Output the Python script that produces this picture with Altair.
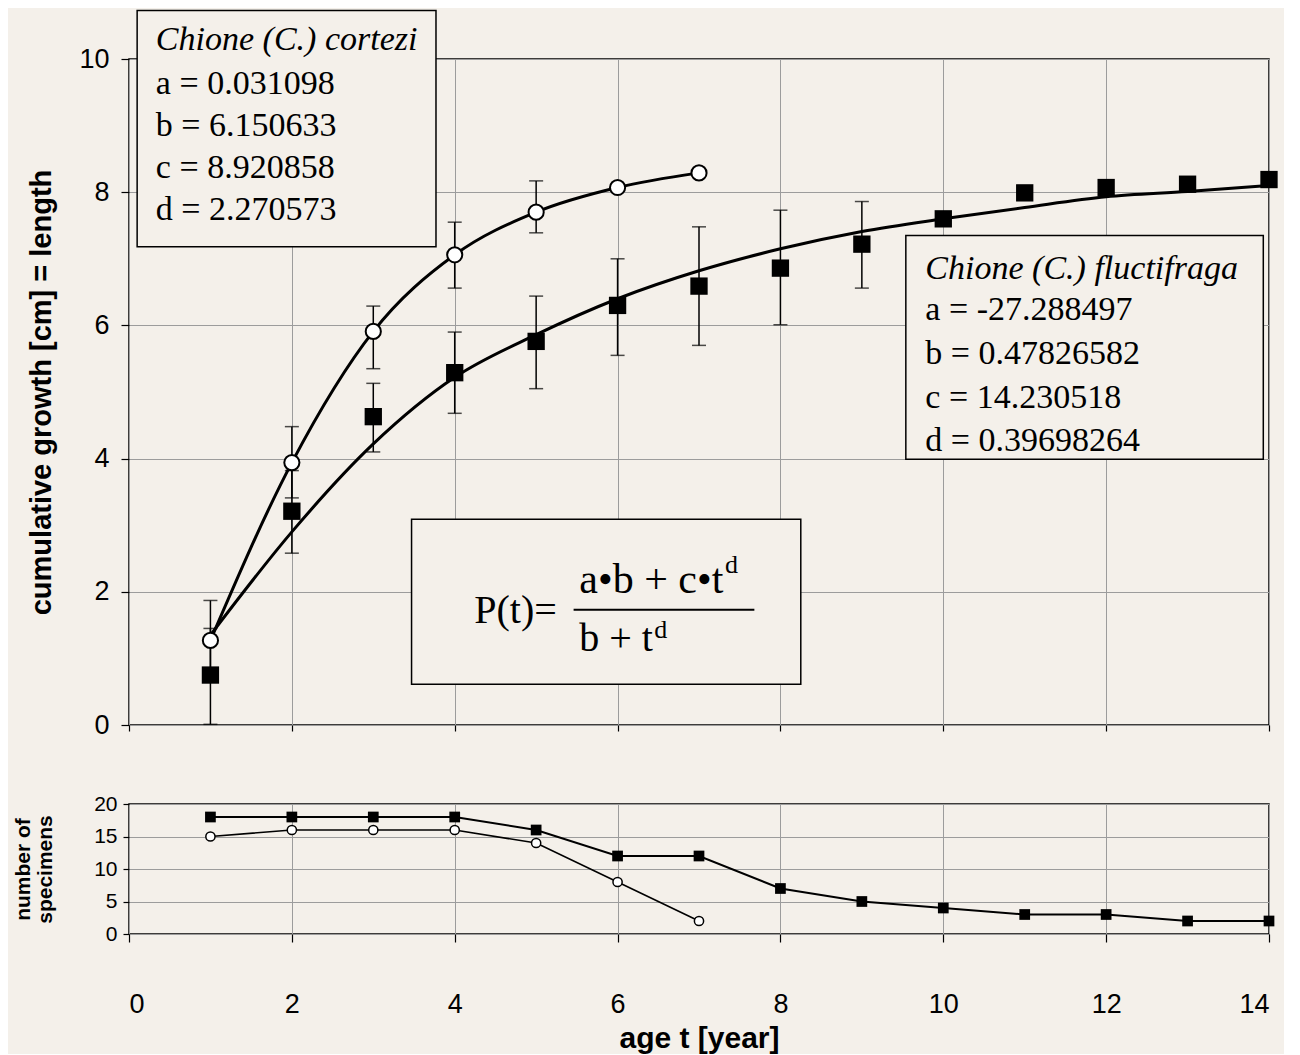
import altair as alt
import pandas as pd

BG = "#f4f0ea"
GRID = "#9c9c9c"
SANS = "Liberation Sans"
SERIF = "Liberation Serif"

# ---------------- data ----------------
cortezi_t = [1, 2, 3, 4, 5, 6, 7]
cortezi_len = [1.27, 3.94, 5.91, 7.06, 7.70, 8.07, 8.29]
cortezi_err_t = [1, 2, 3, 4, 5]
cortezi_lo = [0.67, 3.41, 5.35, 6.56, 7.39]
cortezi_hi = [1.87, 4.48, 6.29, 7.55, 8.17]

fluct_t = [1, 2, 3, 4, 5, 6, 7, 8, 9, 10, 11, 12, 13, 14]
fluct_len = [0.75, 3.21, 4.63, 5.29, 5.76, 6.30, 6.59, 6.86, 7.22, 7.60, 7.99, 8.07, 8.12, 8.19]
fluct_fit = [1.35, 2.90, 4.22, 5.22, 5.86, 6.40, 6.82, 7.15, 7.41, 7.60, 7.77, 7.93, 8.01, 8.10]
fluct_err_t = [1, 2, 3, 4, 5, 6, 7, 8, 9]
fluct_lo = [0.01, 2.58, 4.10, 4.68, 5.05, 5.55, 5.70, 6.01, 6.56]
fluct_hi = [1.45, 3.82, 5.13, 5.90, 6.44, 7.00, 7.48, 7.73, 7.86]

fluct_n = [18, 18, 18, 18, 16, 12, 12, 7, 5, 4, 3, 3, 2, 2]
cortezi_n = [15, 16, 16, 16, 14, 8, 2]

cortezi_title = "Chione (C.) cortezi"
cortezi_params = ["a = 0.031098", "b = 6.150633", "c = 8.920858", "d = 2.270573"]
fluct_title = "Chione (C.) fluctifraga"
fluct_params = ["a = -27.288497", "b = 0.47826582", "c = 14.230518", "d = 0.39698264"]

# ---------------- annotation layout (data units) ----------------
boxes = pd.DataFrame({"x1": [0.10, 9.54, 3.47], "x2": [3.77, 13.93, 8.25],
                      "y1": [10.73, 7.35, 3.09], "y2": [7.18, 3.99, 0.61]})
titles = pd.DataFrame({"txt": [cortezi_title, fluct_title], "x": [0.33, 9.78], "y": [10.13, 6.70]})
params = pd.DataFrame({
    "txt": cortezi_params + fluct_params,
    "x": [0.33] * 4 + [9.78] * 4,
    "y": [9.48, 8.85, 8.22, 7.59, 6.08, 5.42, 4.76, 4.11],
})
formula_p = pd.DataFrame({"txt": ["P(t)="], "x": [4.24], "y": [1.53]})
formula_num = pd.DataFrame({"txt": ["a\u2022b + c\u2022t"], "x": [5.53], "y": [1.98]})
formula_den = pd.DataFrame({"txt": ["b + t"], "x": [5.53], "y": [1.11]})
formula_sup = pd.DataFrame({"txt": ["d", "d"], "x": [7.32, 6.45], "y": [2.28, 1.30]})
frac_line = pd.DataFrame({"x1": [5.46], "x2": [7.68], "y": [1.73]})

# ---------------- tables ----------------
df_c = pd.DataFrame({"t": cortezi_t, "v": cortezi_len})
df_f = pd.DataFrame({"t": fluct_t, "v": fluct_len})
df_fit = pd.DataFrame({"t": fluct_t, "v": fluct_fit})
df_ec = pd.DataFrame({"t": cortezi_err_t, "lo": cortezi_lo, "hi": cortezi_hi})
df_ef = pd.DataFrame({"t": fluct_err_t, "lo": fluct_lo, "hi": fluct_hi})
caps_c = pd.DataFrame({"t": cortezi_err_t * 2, "v": cortezi_lo + cortezi_hi})
caps_f = pd.DataFrame({"t": fluct_err_t * 2, "v": fluct_lo + fluct_hi})
df_nc = pd.DataFrame({"t": cortezi_t, "n": cortezi_n})
df_nf = pd.DataFrame({"t": fluct_t, "n": fluct_n})

# ---------------- scales / axes ----------------
xs = alt.Scale(domain=[0, 14], nice=False, zero=False)
ys = alt.Scale(domain=[0, 10], nice=False)

x_axis_top = alt.Axis(values=list(range(0, 15, 2)), labels=False, ticks=True, tickSize=6,
                      grid=True, domain=False, title=None)
y_axis_top = alt.Axis(values=[0, 2, 4, 6, 8, 10], tickSize=8, labelPadding=12, labelFontSize=27,
                      grid=True, domain=False, title="cumulative growth [cm] = length",
                      titleFontSize=29, titleFontWeight="bold", titlePadding=22)


def X(f):
    return alt.X(f"{f}:Q", scale=xs, axis=x_axis_top)


def Y(f):
    return alt.Y(f"{f}:Q", scale=ys, axis=y_axis_top)


def txt_layer(df, size, style="normal"):
    return alt.Chart(df).mark_text(font=SERIF, fontSize=size, fontStyle=style, align="left",
                                   baseline="alphabetic", color="black").encode(
        x=X("x"), y=Y("y"), text="txt:N")


box_layer = alt.Chart(boxes).mark_rect(fill=BG, stroke="black", strokeWidth=1.5).encode(
    x=X("x1"), x2="x2", y=Y("y1"), y2="y2")

fit_line = alt.Chart(df_fit).mark_line(color="black", strokeWidth=3, interpolate="monotone").encode(
    x=X("t"), y=Y("v"))
c_line = alt.Chart(df_c).mark_line(color="black", strokeWidth=3, interpolate="monotone").encode(
    x=X("t"), y=Y("v"))

ef_rule = alt.Chart(df_ef).mark_rule(color="black", strokeWidth=1.5).encode(x=X("t"), y=Y("lo"), y2="hi")
ec_rule = alt.Chart(df_ec).mark_rule(color="black", strokeWidth=1.5).encode(x=X("t"), y=Y("lo"), y2="hi")
ef_cap = alt.Chart(caps_f).mark_tick(color="black", orient="horizontal", size=14, thickness=1.5).encode(
    x=X("t"), y=Y("v"))
ec_cap = alt.Chart(caps_c).mark_tick(color="black", orient="horizontal", size=14, thickness=1.5).encode(
    x=X("t"), y=Y("v"))

f_pts = alt.Chart(df_f).mark_point(shape="square", filled=True, color="black", size=300, opacity=1).encode(
    x=X("t"), y=Y("v"))
c_pts = alt.Chart(df_c).mark_point(shape="circle", filled=True, fill="white", stroke="black",
                                   strokeWidth=2, size=230, opacity=1).encode(x=X("t"), y=Y("v"))

title_txt = txt_layer(titles, 34, "italic")
param_txt = txt_layer(params, 34)
p_txt = txt_layer(formula_p, 40)
num_txt = txt_layer(formula_num, 42)
den_txt = txt_layer(formula_den, 40)
sup_txt = txt_layer(formula_sup, 26)
frac = alt.Chart(frac_line).mark_rule(color="black", strokeWidth=2).encode(x=X("x1"), x2="x2", y=Y("y"))

top = alt.layer(box_layer, fit_line, c_line, ef_rule, ec_rule, ef_cap, ec_cap, f_pts, c_pts,
                title_txt, param_txt, p_txt, num_txt, den_txt, sup_txt, frac).properties(width=1140, height=666)

# ---------------- lower panel ----------------
x_axis_bot = alt.Axis(values=list(range(0, 15, 2)), tickSize=8, labelPadding=49, labelFontSize=27,
                      grid=True, domain=False, title="age t [year]", titleFontSize=30,
                      titleFontWeight="bold", titlePadding=6)
y_axis_bot = alt.Axis(values=[0, 5, 10, 15, 20], tickSize=6, labelPadding=6, labelFontSize=21,
                      grid=True, domain=False, title=["number of", "specimens"], titleFontSize=21,
                      titleFontWeight="bold", titlePadding=38, titleLineHeight=22)
ys2 = alt.Scale(domain=[0, 20], nice=False)


def X2(f):
    return alt.X(f"{f}:Q", scale=xs, axis=x_axis_bot)


def Y2(f):
    return alt.Y(f"{f}:Q", scale=ys2, axis=y_axis_bot)


nf_line = alt.Chart(df_nf).mark_line(color="black", strokeWidth=2).encode(x=X2("t"), y=Y2("n"))
nc_line = alt.Chart(df_nc).mark_line(color="black", strokeWidth=1.6).encode(x=X2("t"), y=Y2("n"))
nf_pts = alt.Chart(df_nf).mark_point(shape="square", filled=True, color="black", size=115, opacity=1).encode(
    x=X2("t"), y=Y2("n"))
nc_pts = alt.Chart(df_nc).mark_point(shape="circle", filled=True, fill="white", stroke="black",
                                     strokeWidth=1.5, size=85, opacity=1).encode(x=X2("t"), y=Y2("n"))

bottom = alt.layer(nf_line, nc_line, nf_pts, nc_pts).properties(width=1140, height=130)

chart = alt.vconcat(top, bottom, spacing=53).configure(
    background=BG, padding={"left": 3, "top": 0, "right": 5, "bottom": 0}
).configure_view(stroke="black", strokeWidth=1.5, fill=BG).configure_axis(
    labelFont=SANS, titleFont=SANS, labelColor="black", titleColor="black",
    gridColor=GRID, gridWidth=1, tickColor="black", tickWidth=1.2
)

chart.save("out.html", embed_options={"renderer": "svg", "actions": False})
